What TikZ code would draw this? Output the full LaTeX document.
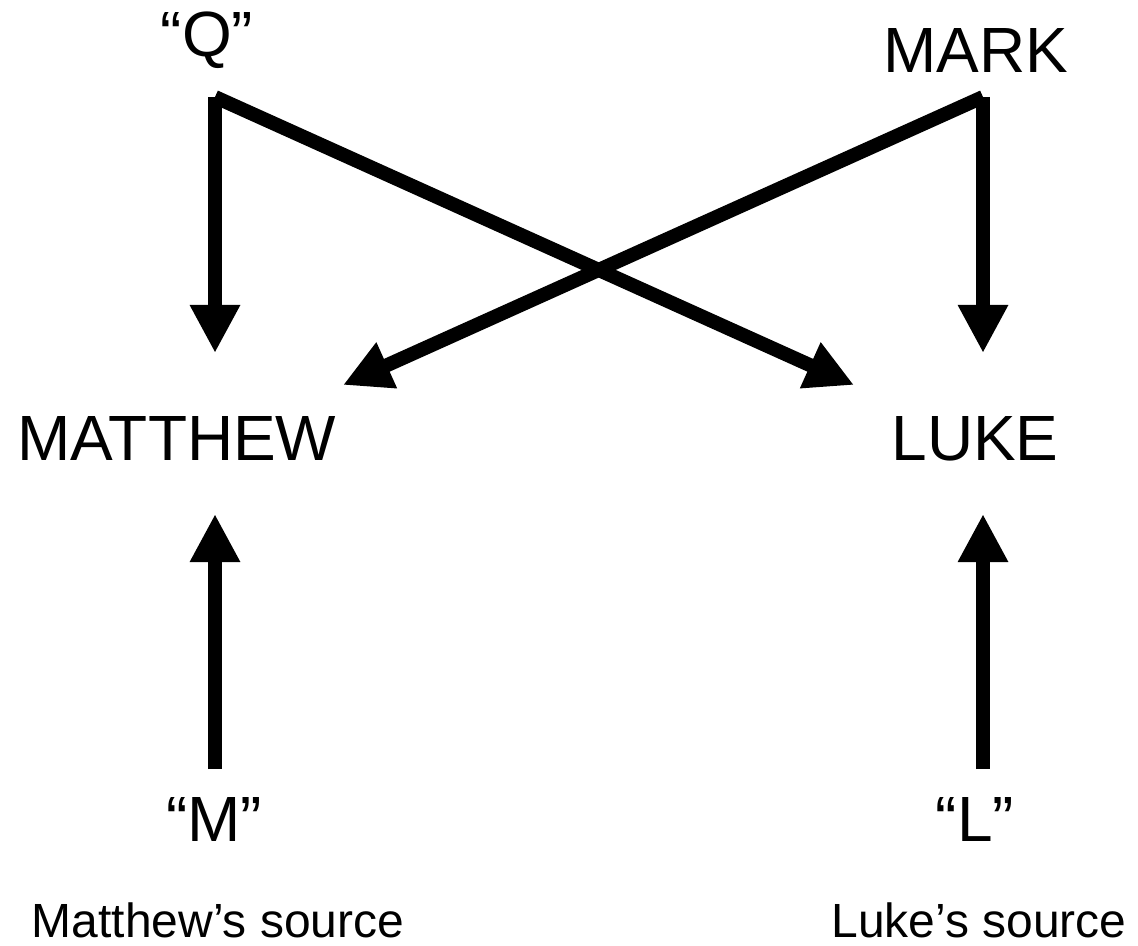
\documentclass[tikz,border=0pt]{standalone}
\usepackage{fontspec}
\setmainfont{Liberation Sans}
\usetikzlibrary{arrows.meta}
\tikzset{
  big/.style={anchor=base,inner sep=0pt,font=\fontsize{36.4}{40}\selectfont},
  small/.style={anchor=base,inner sep=0pt,font=\fontsize{27.3}{30}\selectfont},
  conn/.style={line width=0.28cm,-{Triangle[length=0.96cm,width=0.94cm]}}
}
\begin{document}
\begin{tikzpicture}
  \useasboundingbox (0,0) rectangle (22.76,-18.92);
  \node[big] (Q) at (4.14,-1.14) {“Q”};
  \node[big] (Mk) at (19.52,-1.46) {MARK};
  \node[big] (Mt) at (3.54,-9.20) {MATTHEW};
  \node[big] (Lk) at (19.50,-9.20) {LUKE};
  \node[big] (M) at (4.28,-16.82) {“M”};
  \node[big] (L) at (19.50,-16.82) {“L”};
  \node[small] (sM) at (4.36,-18.74) {Matthew’s source};
  \node[small] (sL) at (19.58,-18.74) {Luke’s source};
  \coordinate (Qc) at (4.30,-1.94);
  \coordinate (Mkc) at (19.66,-1.94);
  \coordinate (MtQ) at (4.30,-7.06);
  \coordinate (LkMk) at (19.66,-7.06);
  \coordinate (LkQ) at (17.08,-7.70);
  \coordinate (MtMk) at (6.86,-7.70);
  \coordinate (Mc) at (4.30,-15.38);
  \coordinate (MtM) at (4.30,-10.28);
  \coordinate (Lc) at (19.66,-15.38);
  \coordinate (LkL) at (19.66,-10.28);
  \path (Qc) edge[conn] (MtQ);
  \path (Qc) edge[conn] (LkQ);
  \path (Mkc) edge[conn] (LkMk);
  \path (Mkc) edge[conn] (MtMk);
  \path (Mc) edge[conn] (MtM);
  \path (Lc) edge[conn] (LkL);
\end{tikzpicture}
\end{document}
